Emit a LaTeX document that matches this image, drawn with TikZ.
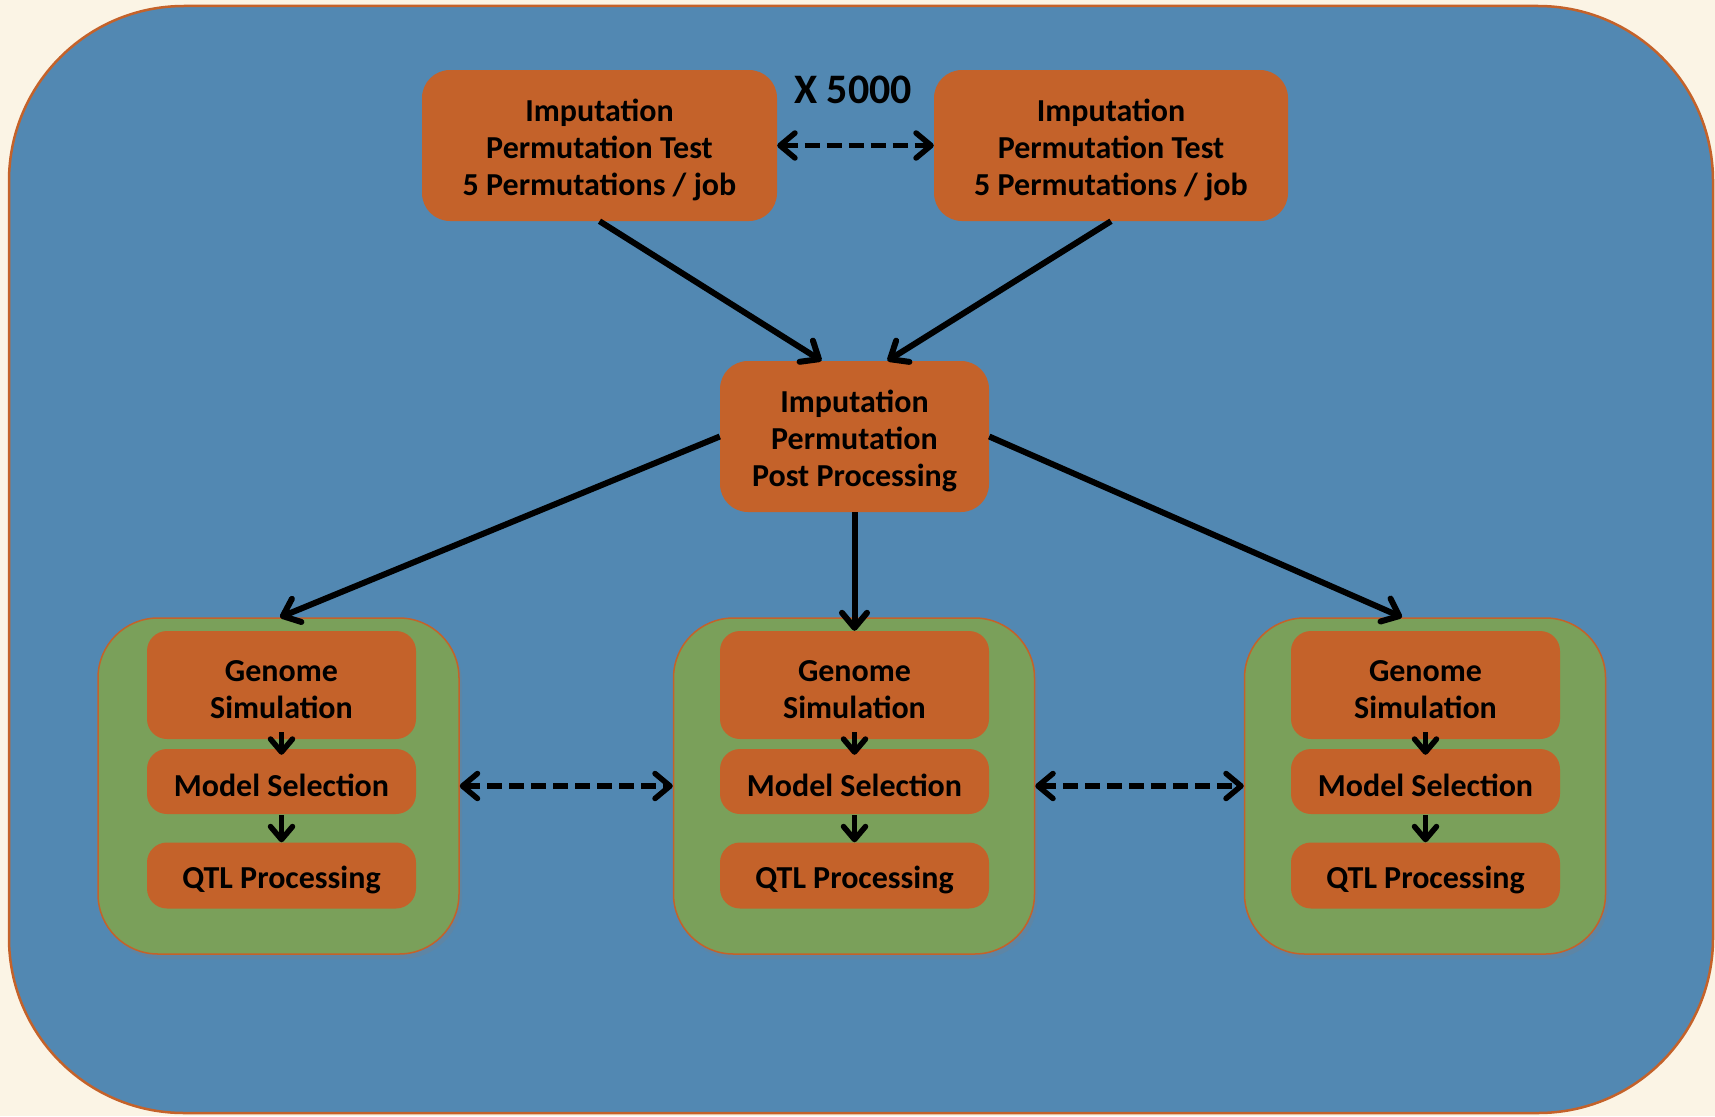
\documentclass[tikz,border=0pt]{standalone}
\usepackage{fontspec}
\setmainfont{Carlito}
\usetikzlibrary{arrows.meta,shadows}

\definecolor{cream}{HTML}{FBF4E5}
\definecolor{panelblue}{HTML}{5288B2}
\definecolor{rust}{HTML}{C4622A}
\definecolor{leaf}{HTML}{7AA05A}

\tikzset{
  jobbox/.style={fill=rust, draw=none, rounded corners=28pt, inner sep=0pt},
  stagebox/.style={fill=rust, draw=none, rounded corners=20pt, inner sep=0pt,
    minimum width=269pt},
  boxtext/.style={align=center, inner sep=0pt,
    font=\bfseries\fontsize{32}{37}\selectfont},
  groupbox/.style={fill=leaf, draw=rust, line width=1.5pt, rounded corners=60pt,
    minimum width=361pt, minimum height=336pt, inner sep=0pt,
    drop shadow={shadow xshift=3pt, shadow yshift=-5pt, opacity=0.25}},
  barb/.tip={Straight Barb[round,length=15pt,width=25pt]},
  flow/.style={line width=6pt, -barb},
  inflow/.style={line width=5.5pt, -{Straight Barb[round,length=13pt,width=22pt]}},
  link/.style={line width=5.5pt, dash pattern=on 15pt off 7pt, barb-barb},
}

\begin{document}
\begin{tikzpicture}[x=1pt,y=-1pt]
  % page and outer panel
  \fill[cream] (0,0) rectangle (1715,1116);
  \useasboundingbox (0,0) rectangle (1715,1116);
  \draw[fill=panelblue, draw=rust, line width=2.5pt, rounded corners=175pt]
    (9,6) rectangle (1713,1113);

  % permutation jobs
  \node[jobbox, minimum width=355pt, minimum height=151pt] (p1) at (599.5,145.5) {};
  \node[boxtext] (p1t) at ([yshift=-4.5pt]p1.center)
    {Imputation\\Permutation Test\\5 Permutations / job};
  \node[jobbox, minimum width=354pt, minimum height=151pt] (p2) at (1111,145.5) {};
  \node[boxtext] (p2t) at ([yshift=-4.5pt]p2.center)
    {Imputation\\Permutation Test\\5 Permutations / job};
  \node[font=\bfseries\fontsize{42}{46}\selectfont, inner sep=0pt] (rep) at (853,90) {X 5000};

  % post processing
  \node[jobbox, minimum width=269pt, minimum height=151pt] (post) at (854.5,436.5) {};
  \node[boxtext] (postt) at ([yshift=-4.5pt]post.center)
    {Imputation\\Permutation\\Post Processing};

  % simulation groups: frame centre / stage column centre
  \foreach \name/\cx/\sx in {gL/278.5/281.5, gC/854/854.5, gR/1425/1425.5}{
    \node[groupbox] (\name) at (\cx,786) {};
    \node[stagebox, minimum height=108pt] (\name g) at (\sx,685) {};
    \node[stagebox, minimum height=65pt] (\name m) at (\sx,781.5) {};
    \node[stagebox, minimum height=66pt] (\name q) at (\sx,875.5) {};
    \node[boxtext] (\name gt) at ([yshift=-4.5pt]\name g.center) {Genome\\Simulation};
    \node[boxtext] (\name mt) at ([yshift=-4pt]\name m.center) {Model Selection};
    \node[boxtext] (\name qt) at ([yshift=-4.5pt]\name q.center) {QTL Processing};
    \draw[inflow] ([yshift=7pt]\name g.south) -- ([yshift=-6pt]\name m.north);
    \draw[inflow] ([yshift=-1pt]\name m.south) -- (\name q.north);
  }

  % connectors
  \draw[link] (p1.east) -- (p2.west);
  \draw[flow] (p1.south) -- ([xshift=-33pt]post.north);
  \draw[flow] (p2.south) -- ([xshift=33pt]post.north);
  \draw[flow] (post.west) -- ([xshift=1.5pt]gL.north);
  \draw[flow] (post.south) -- (gCg.north);
  \draw[flow] (post.east) -- ([xshift=-23pt]gR.north);
  \draw[link] (gL.east) -- (gC.west);
  \draw[link] (gC.east) -- (gR.west);
\end{tikzpicture}
\end{document}
